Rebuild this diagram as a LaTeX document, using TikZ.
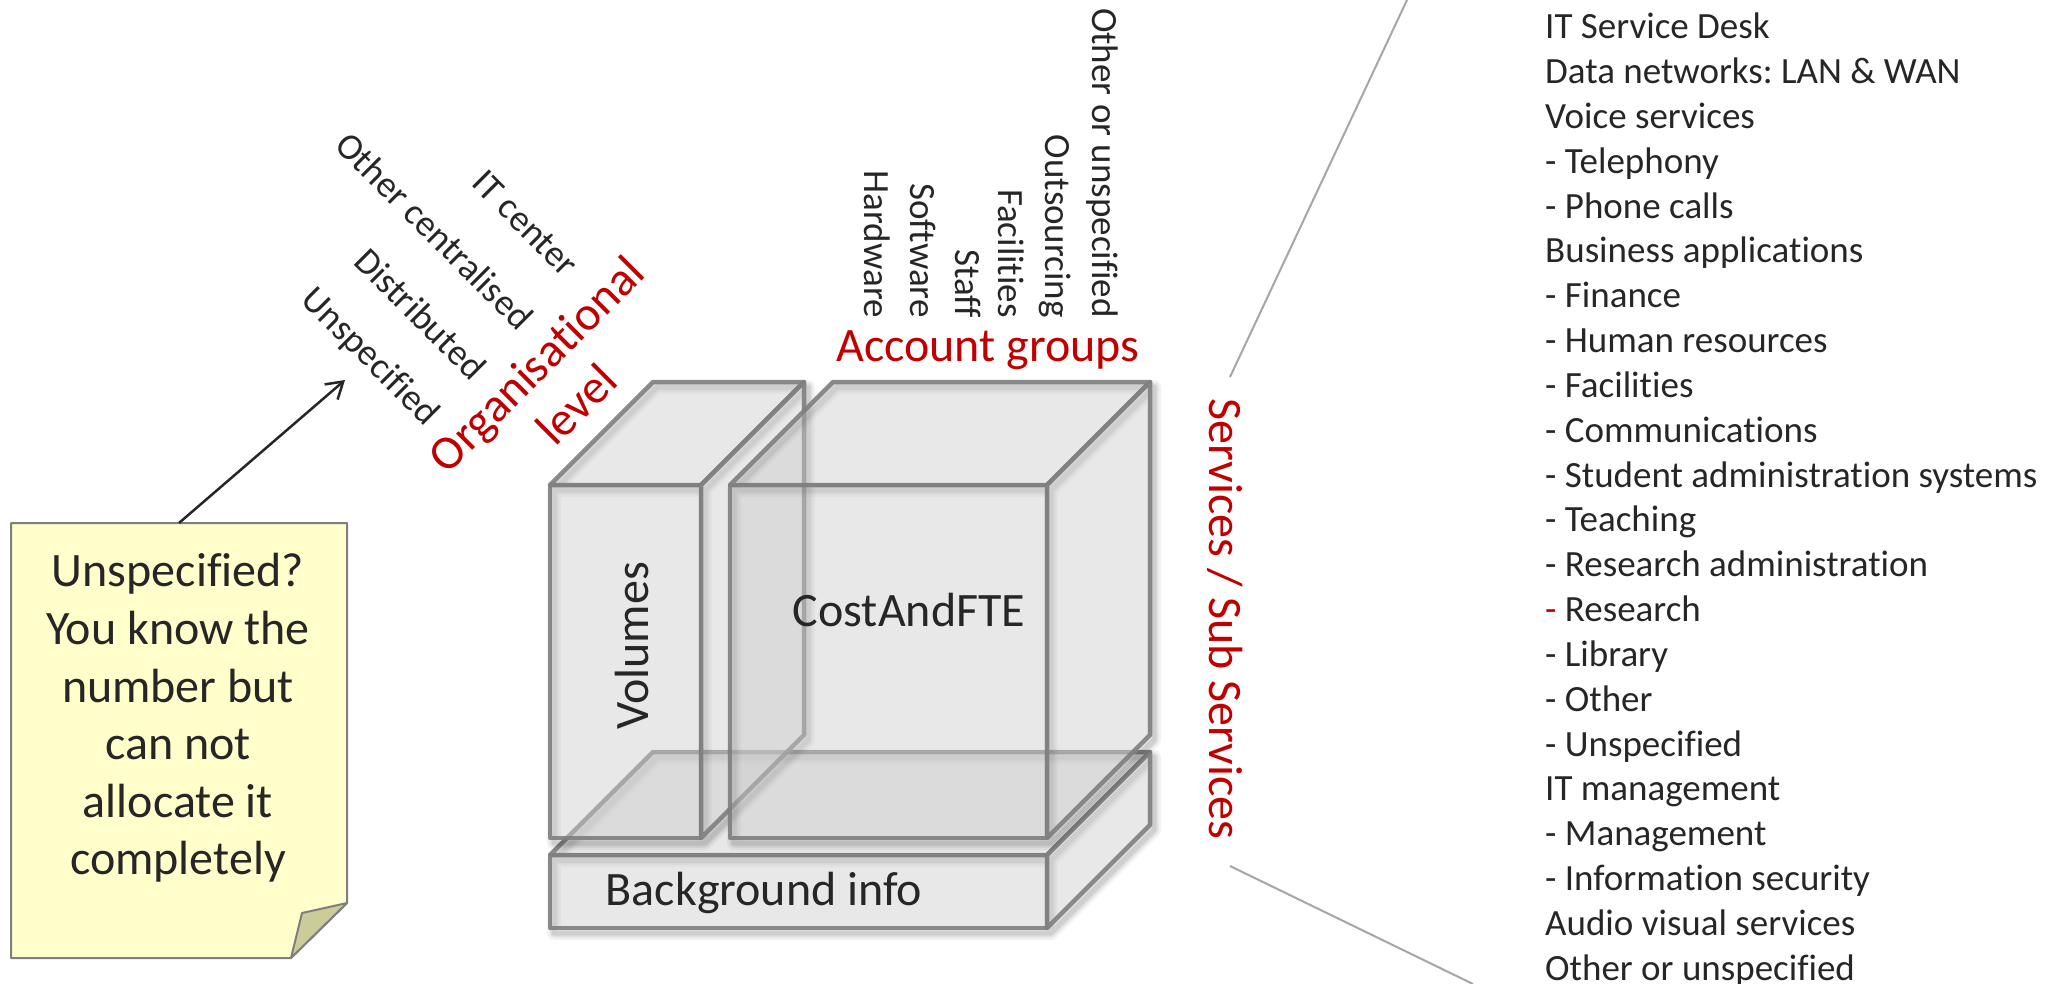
\documentclass[tikz,border=0pt]{standalone}
\usepackage{fontspec}
\setmainfont{Carlito}[Ligatures=NoCommon]
\usetikzlibrary{arrows.meta,calc}
\definecolor{txt}{HTML}{262626}
\definecolor{redt}{HTML}{C00000}
\definecolor{edge}{HTML}{7F7F7F}
\definecolor{notefill}{HTML}{FFFFCC}
\definecolor{flapfill}{HTML}{CCCC99}
\definecolor{guide}{HTML}{A6A6A6}
\newcommand\mycuboid[5]{%
  \foreach \w/\o in {14/0.05, 9/0.07, 5/0.08}{%
    \path[draw=black, draw opacity=\o, line width=\w pt, line join=round, shift={(4,5)}]
      (#1,#2) rectangle (#3,#4)
      (#1,#2) -- ++(#5,-#5) -- ++({#3-#1},0) -- (#3,#2)
      ($(#3,#2)+(#5,-#5)$) -- ++(0,{#4-#2}) -- (#3,#4);
  }
  \path[face] (#1,#2) rectangle (#3,#4);
  \path[face] (#1,#2) -- ++(#5,-#5) -- ++({#3-#1},0) -- (#3,#2) -- cycle;
  \path[face] (#3,#2) -- ++(#5,-#5) -- ++(0,{#4-#2}) -- (#3,#4) -- cycle;
}
\begin{document}
\frenchspacing
\begin{tikzpicture}[x=1pt,y=-1pt,
  face/.style={fill=black!20, fill opacity=0.45, draw=edge, draw opacity=0.9, line width=4.5pt, line join=round},
  lbl/.style={text=txt, font=\fontsize{37}{44.87}\selectfont, inner sep=0pt},
  big/.style={text=txt, font=\fontsize{48}{57.6}\selectfont, inner sep=0pt},
  redlbl/.style={text=redt, font=\fontsize{48}{57}\selectfont, inner sep=0pt},
  guideline/.style={draw=guide, line width=2pt},
]
\useasboundingbox (0,0) rectangle (2072,984);
\clip (0,0) rectangle (2072,984);

% cubes
\mycuboid{550}{855}{1047}{928}{103}
\mycuboid{550}{485}{701}{838}{103}
\mycuboid{730}{485}{1047}{838}{103}

\node[big, rotate=90] (vol) at (632,646) {Volumes};
\node[big] (cost) at (909,610) {CostAndFTE};
\node[big] (bg) at (764,893) {Background info};

% red axis titles
\node[redlbl, rotate=45, align=center] (org) at (556,384) {Organisational\\level};
\node[redlbl] (acc) at (988,350) {Account groups};
\node[redlbl, rotate=-90] (svc) at (1225,619) {Services / Sub Services};

% organisational level labels
\node[lbl, rotate=-45, anchor=east] (itc) at (572,270) {IT center};
\node[lbl, rotate=-45, anchor=east] (oc) at (527,323) {Other centralised};
\node[lbl, rotate=-45, anchor=east] (dist) at (480,373) {Distributed};
\node[lbl, rotate=-45, anchor=east] (unsp) at (432,420) {Unspecified};

% account group labels
\node[lbl, rotate=-90, anchor=east] (hw) at (877,318) {Hardware};
\node[lbl, rotate=-90, anchor=east] (sw) at (923,318) {Software};
\node[lbl, rotate=-90, anchor=east] (st) at (968,318) {Staff};
\node[lbl, rotate=-90, anchor=east] (fac) at (1011,318) {Facilities};
\node[lbl, rotate=-90, anchor=east] (out) at (1055,318) {Outsourcing};
\node[lbl, rotate=-90, anchor=east] (oth) at (1102,318) {Other or unspecified};

% service list
\foreach \t [count=\i from 0] in {Hosting, IT Service Desk, Data networks: LAN \& WAN, Voice services,
  - Telephony, - Phone calls, Business applications, - Finance, - Human resources, - Facilities,
  - Communications, - Student administration systems, - Teaching, - Research administration,
  {{\color{redt}-} Research}, - Library, - Other, - Unspecified, IT management, - Management,
  - Information security, Audio visual services, Other or unspecified}
  \node[lbl, anchor=base west] (s\i) at (1545,{-6+\i*44.83}) {\t};

% guide lines
\coordinate (svctop) at (1230,377);
\coordinate (gtop) at (1407,0);
\coordinate (svcbot) at (1230,866);
\coordinate (gbot) at (1473,984);
\draw[guideline] (svctop) -- (gtop);
\draw[guideline] (svcbot) -- (gbot);

% sticky note
\path[fill=notefill, draw=edge, line width=2pt, line join=round]
  (11,523) -- (347,523) -- (347,903) -- (291,958) -- (11,958) -- cycle;
\path[fill=flapfill, draw=edge, line width=2pt, line join=round]
  (291,958) -- (347,903) -- (302,913) -- cycle;
\node[big, align=center] (note) at (178,718) {Unspecified?\\You know the\\number but\\can not\\allocate it\\completely};

\coordinate (notetop) at (179,523);
\coordinate (unsptip) at (345,380);
\draw[txt, line width=2.5pt, -{Straight Barb[length=16pt,width=20pt]}] (notetop) -- (unsptip);
\end{tikzpicture}
\end{document}
